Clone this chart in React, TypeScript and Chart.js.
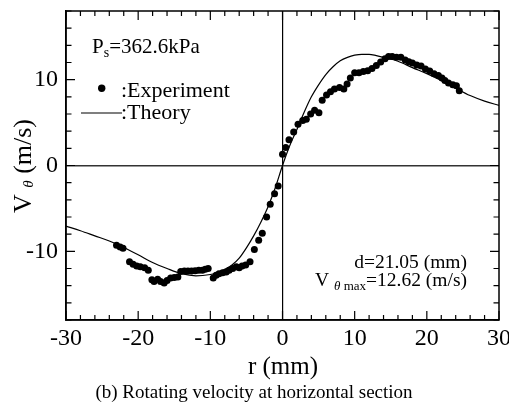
import React, { useEffect, useRef } from "react";
import { Chart, registerables } from "chart.js";

Chart.register(...registerables);

const expR = [
  -23.0, -22.5, -22.1, -21.2, -20.7, -20.2, -19.7, -19.1, -18.6, -18.1, -17.8, -17.3, -16.9, -16.4, -16.0, -15.5,
  -15.0, -14.5, -14.1, -13.6, -13.1, -12.6, -12.1, -11.6, -11.1, -10.7, -10.3, -9.6, -9.2, -8.8, -8.3, -7.8, -7.4,
  -6.9, -6.4, -6.0, -5.6, -5.1, -4.5, -3.9, -3.3, -2.8, -2.2, -1.7, -1.1, -0.6,
  0.0, 0.45, 0.9, 1.55, 2.15, 2.8, 3.3, 3.9, 4.45, 5.05, 5.5, 6.1, 6.65, 7.2, 7.9, 8.5, 8.95, 9.4, 10.0, 10.6,
  11.2, 11.8, 12.4, 13.0, 13.6, 14.2, 14.7, 15.2, 15.8, 16.4, 17.0, 17.5, 18.0, 18.6, 19.2, 19.8, 20.4, 21.0,
  21.6, 22.1, 22.5, 23.0, 23.6, 24.1, 24.5,
];
const expV = [
  -9.3, -9.5, -9.65, -11.2, -11.5, -11.7, -11.8, -11.9, -12.2, -13.3, -13.5, -13.25, -13.5, -13.7, -13.4, -13.1,
  -13.05, -13.0, -12.35, -12.3, -12.3, -12.3, -12.25, -12.2, -12.2, -12.1, -12.0, -13.1, -12.8, -12.6, -12.5,
  -12.4, -12.2, -12.0, -11.8, -11.9, -11.7, -11.6, -11.2, -9.8, -8.7, -7.9, -6.0, -4.5, -3.3, -2.4,
  1.3, 2.1, 3.0, 3.9, 4.8, 5.25, 5.4, 6.0, 6.45, 6.15, 7.6, 8.2, 8.6, 8.9, 9.1, 8.9, 9.5, 10.2, 10.8, 10.8,
  10.95, 11.05, 11.3, 11.65, 12.05, 12.45, 12.7, 12.7, 12.6, 12.6, 12.3, 12.1, 11.95, 11.7, 11.6, 11.25, 11.0,
  10.7, 10.5, 10.2, 9.9, 9.6, 9.4, 9.3, 8.7,
];
const theoryR = [
  -30, -28, -26, -24, -22, -20, -18, -16, -14, -12, -10, -9, -8, -7, -6, -5, -4, -3, -2, -1, 0, 1, 2, 3, 4, 5,
  6, 7, 8, 9, 10, 11, 12, 13, 14, 16, 18, 20, 22, 24, 26, 28, 30,
];
const theoryV = [
  -7.05, -7.6, -8.2, -8.8, -9.55, -10.4, -11.3, -12.0, -12.6, -12.85, -12.7, -12.5, -12.1, -11.6, -10.8, -9.6,
  -8.2, -6.6, -4.8, -2.6, 0, 2.3, 4.2, 6.2, 8.0, 9.4, 10.6, 11.5, 12.2, 12.6, 12.85, 12.95, 12.95, 12.8, 12.6,
  12.15, 11.4, 10.7, 9.9, 9.0, 8.15, 7.5, 7.0,
];
const xTickLabels = [-30, -20, -10, 0, 10, 20, 30];
const yTickLabels = [-10, 0, 10];

const SERIF = "'Liberation Serif', 'Times New Roman', serif";

const decorPlugin = {
  id: "decor",
  afterDraw(chart: any) {
    const { ctx, chartArea: a, scales } = chart;
    const xs = scales.x;
    const ys = scales.y;
    ctx.save();
    ctx.strokeStyle = "#000";
    ctx.lineWidth = 1.5;
    ctx.strokeRect(a.left, a.top, a.right - a.left, a.bottom - a.top);

    ctx.lineWidth = 1.2;
    ctx.beginPath();
    for (let v = -30; v <= 30; v += 2) {
      const px = xs.getPixelForValue(v);
      const len = v % 10 === 0 ? 9 : 5;
      ctx.moveTo(px, a.bottom);
      ctx.lineTo(px, a.bottom - len);
      ctx.moveTo(px, a.top);
      ctx.lineTo(px, a.top + len);
    }
    for (let v = -18; v <= 18; v += 2) {
      const py = ys.getPixelForValue(v);
      const len = v % 10 === 0 ? 9 : 5.5;
      ctx.moveTo(a.left, py);
      ctx.lineTo(a.left + len, py);
      ctx.moveTo(a.right, py);
      ctx.lineTo(a.right - len, py);
    }
    ctx.stroke();

    ctx.fillStyle = "#000";
    ctx.textBaseline = "alphabetic";

    // P_s annotation
    ctx.textAlign = "left";
    let x = 92;
    ctx.font = `21px ${SERIF}`;
    ctx.fillText("P", x, 53);
    x += ctx.measureText("P").width;
    ctx.font = `14px ${SERIF}`;
    ctx.fillText("s", x, 57);
    x += ctx.measureText("s").width;
    ctx.font = `21px ${SERIF}`;
    ctx.fillText("=362.6kPa", x, 53);

    // legend
    ctx.beginPath();
    ctx.arc(101.7, 88.3, 3.7, 0, Math.PI * 2);
    ctx.fill();
    ctx.font = `22px ${SERIF}`;
    ctx.fillText(":Experiment", 121, 97);
    ctx.beginPath();
    ctx.lineWidth = 1.2;
    ctx.moveTo(81, 113);
    ctx.lineTo(122, 113);
    ctx.stroke();
    ctx.fillText(":Theory", 121, 119);

    // right annotations
    ctx.textAlign = "right";
    ctx.font = `19.5px ${SERIF}`;
    ctx.fillText("d=21.05 (mm)", 467, 268);
    const tail = "=12.62 (m/s)";
    const tailW = ctx.measureText(tail).width;
    ctx.fillText(tail, 467, 286);
    ctx.font = `italic 13px ${SERIF}`;
    const thW = ctx.measureText("\u03b8").width;
    ctx.font = `13px ${SERIF}`;
    const maxW = ctx.measureText(" max").width;
    let sx = 467 - tailW - maxW;
    ctx.fillText(" max", 467 - tailW, 290);
    ctx.font = `italic 13px ${SERIF}`;
    ctx.fillText("\u03b8", sx, 290);
    sx -= thW;
    ctx.font = `19.5px ${SERIF}`;
    ctx.fillText("V ", sx, 286);

    // x title and caption
    ctx.textAlign = "center";
    ctx.font = `25px ${SERIF}`;
    ctx.fillText("r (mm)", 283, 374);
    ctx.font = `19px ${SERIF}`;
    ctx.fillText("(b) Rotating velocity at horizontal section", 254, 398);

    // y title rotated
    ctx.translate(31, 166);
    ctx.rotate(-Math.PI / 2);
    ctx.textAlign = "left";
    ctx.font = `26px ${SERIF}`;
    const wV = ctx.measureText("V ").width;
    const wU = ctx.measureText(" (m/s)").width;
    ctx.font = `italic 15px ${SERIF}`;
    const wT = ctx.measureText("\u03b8").width;
    const total = wV + wT + wU;
    let tx = -total / 2;
    ctx.font = `26px ${SERIF}`;
    ctx.fillText("V ", tx, 0);
    tx += wV;
    ctx.font = `italic 15px ${SERIF}`;
    ctx.fillText("\u03b8", tx, 2);
    tx += wT;
    ctx.font = `26px ${SERIF}`;
    ctx.fillText(" (m/s)", tx, 0);
    ctx.restore();
  },
};

const zeroPad = (s: any) => {
  s.paddingTop = 0;
  s.paddingBottom = 0;
  s.paddingLeft = 0;
  s.paddingRight = 0;
};

export default function App() {
  const ref = useRef<HTMLCanvasElement | null>(null);
  useEffect(() => {
    if (!ref.current) return;
    const chart = new Chart(ref.current, {
      type: "scatter",
      data: {
        datasets: [
          {
            label: "Theory",
            data: theoryR.map((r, i) => ({ x: r, y: theoryV[i] })),
            showLine: true,
            borderColor: "#000",
            borderWidth: 1.2,
            pointRadius: 0,
            cubicInterpolationMode: "monotone",
            fill: false,
          } as any,
          {
            label: "Experiment",
            data: expR.map((r, i) => ({ x: r, y: expV[i] })),
            showLine: false,
            pointRadius: 3.5,
            pointBackgroundColor: "#000",
            pointBorderWidth: 0,
            backgroundColor: "#000",
          } as any,
        ],
      },
      options: {
        animation: false,
        responsive: false,
        devicePixelRatio: 1,
        layout: { padding: { left: 0, right: 10, top: 11, bottom: 0 } },
        plugins: { legend: { display: false }, tooltip: { enabled: false }, title: { display: false } },
        scales: {
          x: {
            type: "linear",
            min: -30,
            max: 30,
            afterFit: (s: any) => {
              s.height = 84;
              zeroPad(s);
            },
            afterBuildTicks: (s: any) => {
              s.ticks = xTickLabels.map((v) => ({ value: v }));
            },
            ticks: {
              font: { family: SERIF, size: 24 },
              color: "#000",
              padding: 4,
              maxRotation: 0,
              autoSkip: false,
            },
            grid: {
              drawTicks: false,
              lineWidth: 1.2,
              color: (c: any) => (c.tick && c.tick.value === 0 ? "#000" : "rgba(0,0,0,0)"),
            },
            border: { display: true, color: "#000", width: 1.5 },
          },
          y: {
            type: "linear",
            min: -18,
            max: 18,
            afterFit: (s: any) => {
              s.width = 66;
              zeroPad(s);
            },
            afterBuildTicks: (s: any) => {
              s.ticks = yTickLabels.map((v) => ({ value: v }));
            },
            ticks: {
              font: { family: SERIF, size: 24 },
              color: "#000",
              padding: 8,
              autoSkip: false,
            },
            grid: {
              drawTicks: false,
              lineWidth: 1.6,
              color: (c: any) => (c.tick && c.tick.value === 0 ? "#333" : "rgba(0,0,0,0)"),
            },
            border: { display: true, color: "#000", width: 1.5 },
          },
        },
      },
      plugins: [decorPlugin],
    });
    return () => chart.destroy();
  }, []);
  return (
    <div style={{ position: "fixed", left: 0, top: 0, width: 509, height: 404, background: "#fff" }}>
      <canvas ref={ref} width={509} height={404} style={{ width: 509, height: 404 }} />
    </div>
  );
}
